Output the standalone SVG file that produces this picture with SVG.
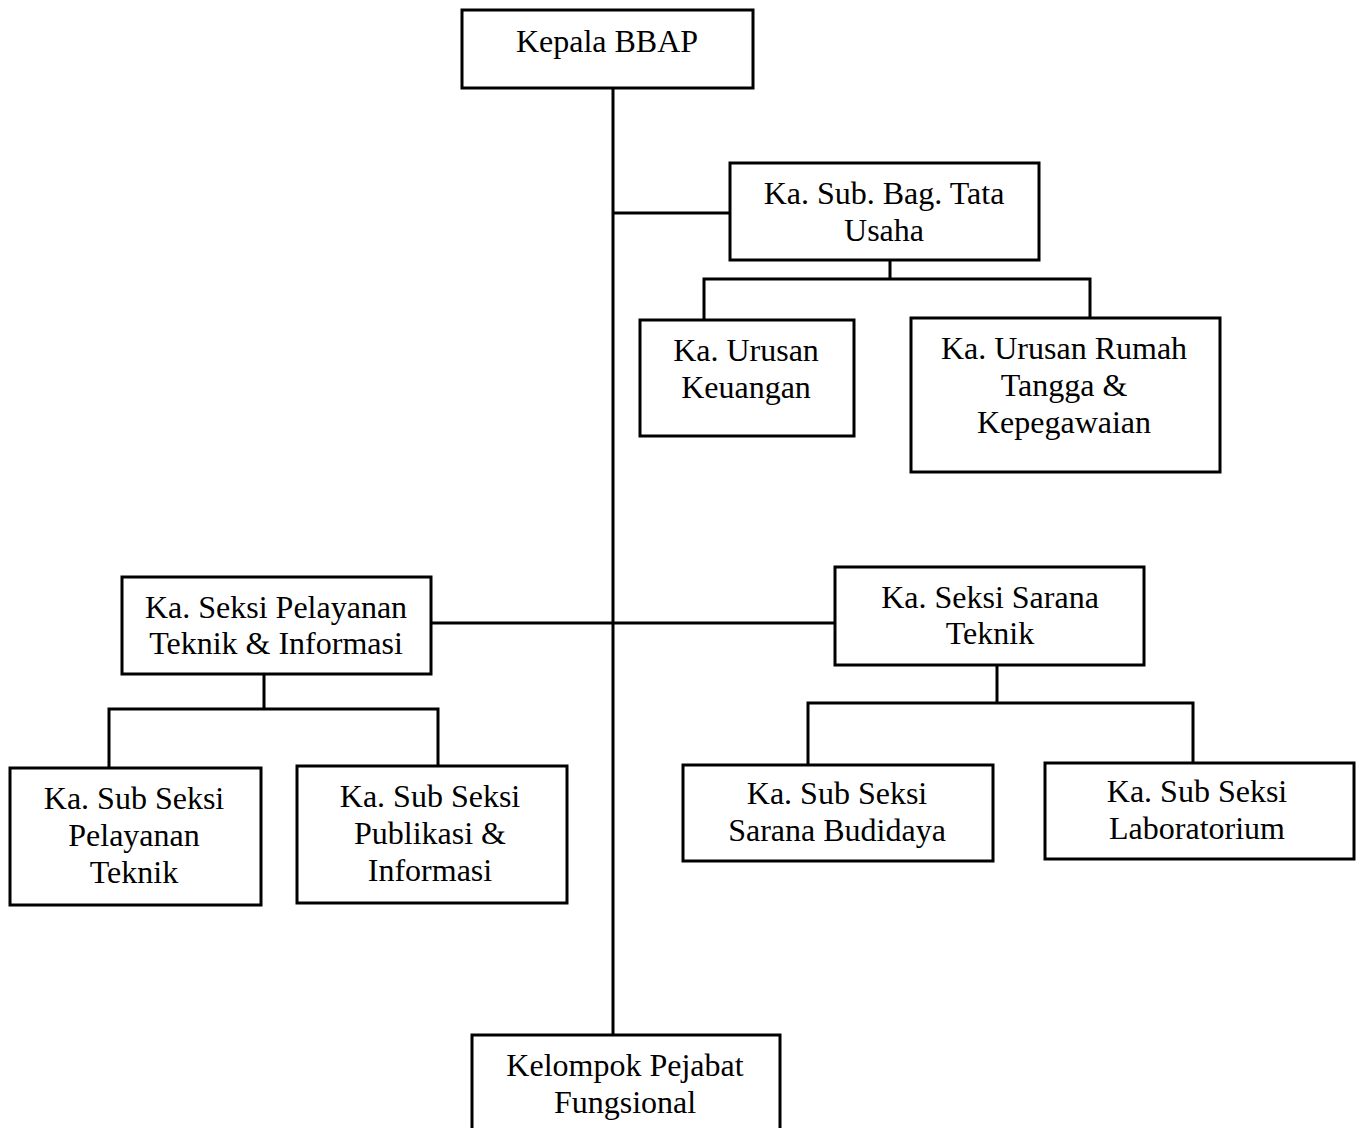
<svg xmlns="http://www.w3.org/2000/svg" width="1361" height="1128" viewBox="0 0 1361 1128">
<style>
.box{fill:#fff;stroke:#000;stroke-width:3}
.ln{fill:none;stroke:#000;stroke-width:3}
text{font-family:"Liberation Serif","Times New Roman",serif;font-size:32px;fill:#000;text-anchor:middle}
</style>
<rect width="1361" height="1128" fill="#fff"/>
<g id="connectors">
<path class="ln" d="M613 88V1035"/>
<path class="ln" d="M613 213H730"/>
<path class="ln" d="M890 260V279M704 320V279H1090V318"/>
<path class="ln" d="M431 623H835"/>
<path class="ln" d="M264 674V709M109 768V709H438V766"/>
<path class="ln" d="M997 665V703M808 765V703H1193V763"/>
</g>
<g id="kepala"><rect class="box" x="462" y="10" width="291" height="78"/><text x="607" y="52">Kepala BBAP</text></g>
<g id="tatausaha"><rect class="box" x="730" y="163" width="309" height="97"/><text x="884" y="204">Ka. Sub. Bag. Tata</text><text x="884" y="241">Usaha</text></g>
<g id="keuangan"><rect class="box" x="640" y="320" width="214" height="116"/><text x="746" y="361">Ka. Urusan</text><text x="746" y="398">Keuangan</text></g>
<g id="rumahtangga"><rect class="box" x="911" y="318" width="309" height="154"/><text x="1064" y="359">Ka. Urusan Rumah</text><text x="1064" y="396">Tangga &amp;</text><text x="1064" y="433">Kepegawaian</text></g>
<g id="pelayanan"><rect class="box" x="122" y="577" width="309" height="97"/><text x="276" y="618">Ka. Seksi Pelayanan</text><text x="276" y="654">Teknik &amp; Informasi</text></g>
<g id="sarana"><rect class="box" x="835" y="567" width="309" height="98"/><text x="990" y="608">Ka. Seksi Sarana</text><text x="990" y="644">Teknik</text></g>
<g id="subpelayanan"><rect class="box" x="10" y="768" width="251" height="137"/><text x="134" y="809">Ka. Sub Seksi</text><text x="134" y="846">Pelayanan</text><text x="134" y="883">Teknik</text></g>
<g id="publikasi"><rect class="box" x="297" y="766" width="270" height="137"/><text x="430" y="807">Ka. Sub Seksi</text><text x="430" y="844">Publikasi &amp;</text><text x="430" y="881">Informasi</text></g>
<g id="budidaya"><rect class="box" x="683" y="765" width="310" height="96"/><text x="837" y="804">Ka. Sub Seksi</text><text x="837" y="841">Sarana Budidaya</text></g>
<g id="laboratorium"><rect class="box" x="1045" y="763" width="309" height="96"/><text x="1197" y="802">Ka. Sub Seksi</text><text x="1197" y="839">Laboratorium</text></g>
<g id="kelompok"><rect class="box" x="472" y="1035" width="308" height="100"/><text x="625" y="1076">Kelompok Pejabat</text><text x="625" y="1113">Fungsional</text></g>
</svg>
